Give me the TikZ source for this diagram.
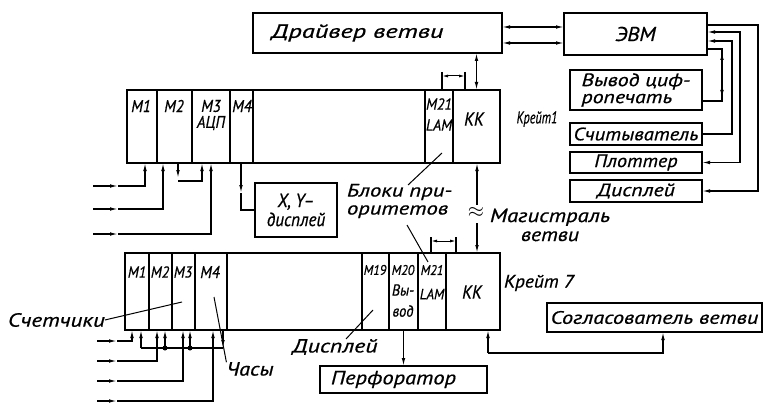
\documentclass[tikz,border=0pt]{standalone}
\usepackage{fontspec}
\newfontfamily\gost[FakeStretch=0.9,FakeBold=0.6]{PT Sans}
\usetikzlibrary{arrows.meta}
\newcommand\fs[1]{\fontsize{#1}{#1}\selectfont}
\newcommand\hsq[2]{\scalebox{#1}[1]{#2}}
\begin{document}
\begin{tikzpicture}[x=1pt,y=-1pt,
  >={Latex[length=8pt,width=3.6pt]},
  every node/.style={inner sep=0pt, outer sep=0pt},
  t/.style={font=\gost\itshape},
  box/.style={draw, line width=1.5pt, anchor=north west, font=\gost\itshape},
  crate/.style={draw, line width=1.8pt, anchor=north west},
  slot/.style={draw, line width=1.2pt, anchor=north west, minimum height=#1},
  ln/.style={line width=1.2pt},
  dot/.style={circle, fill, minimum size=5pt}]
\useasboundingbox (0,0) rectangle (774,404);

% ---------- top boxes
\node[box, minimum width=249pt, minimum height=40pt] (drv) at (253,13) {\fs{19}\hsq{1.55}{Драйвер ветви}\hspace*{40pt}};
\node[box, minimum width=143pt, minimum height=42pt] (evm) at (564,13) {\fs{20}\hsq{1.2}{ЭВМ}};
\node[box, minimum width=132pt, minimum height=40pt, align=left, font={\gost\itshape\fontsize{18}{17}\selectfont}] (vyv) at (570,70) {\hsq{1.35}{Вывод циф-}\\\hsq{1.35}{ропечать}};
\node[box, minimum width=132pt, minimum height=22pt] (sch) at (570,123) {\fs{18}\hsq{1.28}{Считыватель}};
\node[box, minimum width=132pt, minimum height=21pt] (plt) at (570,152) {\fs{18}\hsq{1.25}{Плоттер}};
\node[box, minimum width=132pt, minimum height=22pt] (dsp) at (570,180) {\fs{18}\hsq{1.35}{Дисплей}};

% ---------- crate 1
\node[crate, minimum width=373pt, minimum height=73pt] (cr1) at (127,90) {};
\node[slot=73pt, minimum width=30pt] (c1m1) at (127,90) {};
\node[slot=73pt, minimum width=35pt] (c1m2) at (157,90) {};
\node[slot=73pt, minimum width=38pt] (c1m3) at (192,90) {};
\node[slot=73pt, minimum width=23pt] (c1m4) at (230,90) {};
\node[slot=73pt, minimum width=28pt] (c1m21) at (425,90) {};
\node[slot=73pt, minimum width=47pt] (c1kk) at (453,90) {};
\node[t] (l1m1) at (141,106) {\fs{17}M1};
\node[t] (l1m2) at (174,106) {\fs{17}M2};
\node[t] (l1m3) at (211,106) {\fs{17}M3};
\node[t] (l1adc) at (211,123) {\fs{17}АЦП};
\node[t] (l1m4) at (242,106) {\fs{17}M4};
\node[t] (l1m21) at (439,104) {\fs{16}M21};
\node[t] (l1lam) at (439,125) {\fs{16}LAM};
\node[t] (l1kk) at (474,119) {\fs{19}KK};
\node[t] (l1cr) at (537,119) {\fs{17}\hsq{0.8}{Крейт1}};

% ---------- crate 7
\node[crate, minimum width=375pt, minimum height=77pt] (cr7) at (125,253) {};
\node[slot=77pt, minimum width=24pt] (c7m1) at (125,253) {};
\node[slot=77pt, minimum width=23pt] (c7m2) at (149,253) {};
\node[slot=77pt, minimum width=23pt] (c7m3) at (172,253) {};
\node[slot=77pt, minimum width=32pt] (c7m4) at (195,253) {};
\node[slot=77pt, minimum width=27pt] (c7m19) at (362,253) {};
\node[slot=77pt, minimum width=29pt] (c7m20) at (389,253) {};
\node[slot=77pt, minimum width=28pt] (c7m21) at (418,253) {};
\node[slot=77pt, minimum width=54pt] (c7kk) at (446,253) {};
\node[t] (l7m1) at (137,272) {\fs{16}M1};
\node[t] (l7m2) at (160,272) {\fs{16}M2};
\node[t] (l7m3) at (183,272) {\fs{16}M3};
\node[t] (l7m4) at (210,272) {\fs{17}M4};
\node[t] (l7m19) at (375,270) {\fs{14}M19};
\node[t] (l7m20) at (403,270) {\fs{14}M20};
\node[t] (l7vy) at (403,290) {\fs{16}Вы-};
\node[t] (l7vod) at (403,311) {\fs{16}вод};
\node[t] (l7m21) at (432,270) {\fs{14}M21};
\node[t] (l7lam) at (432,294) {\fs{15}LAM};
\node[t] (l7kk) at (472,292) {\fs{19}KK};
\node[t] (l7cr) at (539,283) {\fs{18}\hsq{1.2}{Крейт 7}};

% ---------- other boxes
\node[box, minimum width=82pt, minimum height=54pt, align=center, font={\gost\itshape\fontsize{19}{19}\selectfont}] (xy) at (255,183) {X, Y–\\дисплей};
\node[box, minimum width=167pt, minimum height=27pt] (perf) at (320,366) {\fs{19}\hsq{1.32}{Перфоратор}\hspace*{20pt}};
\node[box, minimum width=215pt, minimum height=29pt] (sog) at (547,303) {\fs{18}\hsq{1.38}{Согласователь ветви}};

% ---------- free labels
\node[anchor=west, align=left, font={\gost\itshape\fontsize{18}{18}\selectfont}] (bloki) at (347,201) {\hsq{1.4}{Блоки при-}\\\hsq{1.4}{оритетов}};
\node[align=center, font={\gost\itshape\fontsize{19}{19}\selectfont}] (mag) at (550,225) {\hsq{1.33}{Магистраль}\\\hsq{1.28}{ветви}};
\node[t] (approx) at (476,212) {\fs{20}$\approx$};
\node[t, anchor=west] (sch7) at (8,320) {\fs{19}\hsq{1.35}{Счетчики}};
\node[t] (chasy) at (250,369) {\fs{19}\hsq{1.3}{Часы}};
\node[t] (dsp7) at (335,347) {\fs{19}\hsq{1.4}{Дисплей}};

% ---------- coordinates
\coordinate (h1) at (533,27);
\coordinate (h2) at (533,43);
\coordinate (r1) at (758,25);
\coordinate (r2) at (740,32);
\coordinate (r3) at (732,41);
\coordinate (r4) at (722,49);
\coordinate (r4b) at (722,101);
\coordinate (b1a) at (442,72);
\coordinate (b1b) at (465,72);
\coordinate (b1y) at (442,76);
\coordinate (b7a) at (431,237);
\coordinate (b7b) at (456,237);
\coordinate (b7y) at (431,241);
\coordinate (i1s) at (93,186);  \coordinate (i1m) at (118,186); \coordinate (i1c) at (145,186);
\coordinate (i2s) at (93,209);  \coordinate (i2m) at (118,209); \coordinate (i2c) at (163,209);
\coordinate (i3s) at (93,234);  \coordinate (i3m) at (118,234); \coordinate (i3c) at (211,234);
\coordinate (lpa) at (178,181); \coordinate (lpb) at (202,181);
\coordinate (o4a) at (241,193); \coordinate (o4) at (241,210);
\coordinate (mg1) at (477,205); \coordinate (mg2) at (477,223);
\coordinate (j1s) at (97,341);  \coordinate (j1m) at (117,341); \coordinate (j1c) at (132,341);
\coordinate (j2s) at (97,361);  \coordinate (j2m) at (117,361); \coordinate (j2c) at (157,361);
\coordinate (j3s) at (97,381);  \coordinate (j3m) at (117,381); \coordinate (j3c) at (183,381);
\coordinate (j4s) at (97,401);  \coordinate (j4m) at (117,401); \coordinate (j4c) at (213,401);
\coordinate (bL) at (141,348); \coordinate (bR) at (223,348);
\node[dot] (d1) at (165,348) {};
\node[dot] (d2) at (190,348) {};
\coordinate (s1) at (488,353); \coordinate (s2) at (663,353);
\coordinate (lb1) at (408,185); \coordinate (lb1e) at (442,153);
\coordinate (lb2) at (407,225); \coordinate (lb2e) at (428,262);
\coordinate (lsc) at (182,302);
\coordinate (lch) at (214,297);
\coordinate (ld1) at (346,339); \coordinate (ld2) at (373,310);

% ---------- connectors top
\draw[ln,<->] (drv.east |- h1) -- (evm.west |- h1);
\draw[ln,<->] (drv.east |- h2) -- (evm.west |- h2);
\draw[ln,<->] (drv.south -| c1kk.north) -- (c1kk.north);
\draw[ln,->] (evm.east |- r1) -- (r1) |- (dsp.east);
\draw[ln,<->] (evm.east |- r2) -- (r2) |- (plt.east);
\draw[ln,->] (sch.east) -| (r3) -- (evm.east |- r3);
\draw[ln] (evm.east |- r4) -- (r4) -- (r4b) -- (vyv.east |- r4b);
\draw[ln,<->,shorten <=3pt,shorten >=3pt] (r4) -- (r4b);
% bracket crate 1
\draw[ln] (b1a) -- (b1a |- cr1.north);
\draw[ln] (b1b) -- (b1b |- cr1.north);
\draw[line width=1pt,<->,>={Latex[length=6pt,width=3pt]}] (b1y) -- (b1y -| b1b);
% bracket crate 7
\draw[ln] (b7a) -- (b7a |- cr7.north);
\draw[ln] (b7b) -- (b7b |- cr7.north);
\draw[line width=1pt,<->,>={Latex[length=6pt,width=3pt]}] (b7y) -- (b7y -| b7b);

% ---------- crate 1 bottom
\draw[ln,->] (i1s) -- (i1m);
\draw[ln,->] (i1m) -- (i1c) -- (i1c |- cr1.south);
\draw[ln,->] (i2s) -- (i2m);
\draw[ln,->] (i2m) -- (i2c) -- (i2c |- cr1.south);
\draw[ln,->] (i3s) -- (i3m);
\draw[ln,->] (i3m) -- (i3c) -- (i3c |- cr1.south);
\draw[ln,->] (lpa |- cr1.south) -- ([yshift=3pt]lpa);
\draw[ln,->] (lpa) -- (lpb) -- (lpb |- cr1.south);
\draw[ln,->] (o4a |- cr1.south) -- (o4a);
\draw[ln] (o4a) -- (o4) -- (xy.west |- o4);

% ---------- magistral
\draw[ln,->] (mg1) -- (mg1 |- cr1.south);
\draw[ln,->] (mg2) -- (mg2 |- cr7.north);

% ---------- crate 7 bottom
\draw[ln,->] (j1s) -- (j1m);
\draw[ln,->] (j1m) -- (j1c) -- (j1c |- cr7.south);
\draw[ln,->] (j2s) -- (j2m);
\draw[ln,->] (j2m) -- (j2c) -- (j2c |- cr7.south);
\draw[ln,->] (j3s) -- (j3m);
\draw[ln,->] (j3m) -- (j3c) -- (j3c |- cr7.south);
\draw[ln,->] (j4s) -- (j4m);
\draw[ln,->] (j4m) -- (j4c) -- (j4c |- cr7.south);
\draw[ln,->] (bR |- cr7.south) -- (bR);
\draw[ln] (bR) -- (bL);
\draw[ln,->] (bL) -- (bL |- cr7.south);
\draw[ln,->] (d1) -- (d1 |- cr7.south);
\draw[ln,->] (d2) -- (d2 |- cr7.south);
\draw[ln,->] (c7m20.south) -- (c7m20.south |- perf.north);
\draw[ln,->] (s1) -- (s1 |- cr7.south);
\draw[ln,->] (s1) -- (s2) -- (s2 |- sog.south);

% ---------- leaders
\draw[line width=1pt] (lb1) -- (lb1e);
\draw[line width=1pt] (lb2) -- (lb2e);
\draw[line width=1pt] (sch7.east) -- (lsc);
\draw[line width=1pt] (lch) -- (chasy.north west);
\draw[line width=1pt] (ld1) -- (ld2);
\end{tikzpicture}
\end{document}
